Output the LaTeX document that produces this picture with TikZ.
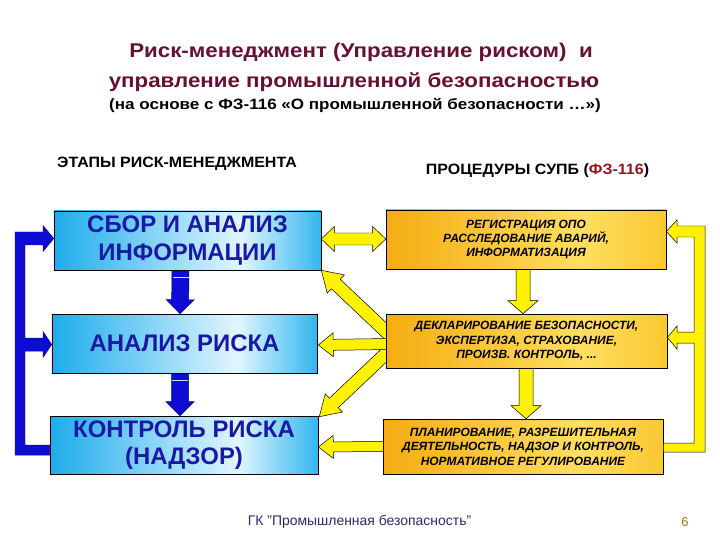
\documentclass[tikz,border=0pt]{standalone}
\usepackage{fontspec}
\setmainfont{Liberation Sans}
\newfontfamily\widefont{Liberation Sans}[FakeStretch=1.12]
\newfontfamily\wideskfont{Liberation Sans}[FakeStretch=1.14]
\newfontfamily\headfont{Liberation Sans}[FakeStretch=1.07]
\usetikzlibrary{calc}
\pgfdeclarelayer{background}
\pgfsetlayers{background,main}
\definecolor{titlecol}{RGB}{102,16,52}
\definecolor{bluetext}{RGB}{25,25,165}
\definecolor{cyanA}{RGB}{30,172,235}
\definecolor{cyanB}{RGB}{225,246,255}
\definecolor{cyanC}{RGB}{50,182,238}
\definecolor{orA}{RGB}{245,172,18}
\definecolor{orB}{RGB}{255,222,96}
\definecolor{orC}{RGB}{250,200,48}
\definecolor{arrowyellow}{RGB}{255,242,0}
\definecolor{arrowblue}{RGB}{12,12,212}
\definecolor{footcol}{RGB}{40,40,110}
\definecolor{pagenum}{RGB}{170,110,30}
\definecolor{fzred}{RGB}{150,20,30}
\pgfdeclarehorizontalshading{cyanshade}{100bp}{color(0bp)=(cyanA); color(25bp)=(cyanA); color(60bp)=(cyanB); color(75bp)=(cyanC); color(100bp)=(cyanC)}
\pgfdeclarehorizontalshading{orshade}{100bp}{color(0bp)=(orA); color(25bp)=(orA); color(60bp)=(orB); color(75bp)=(orC); color(100bp)=(orC)}
% block arrow: style, from, to, shaft half width, head half width, head length
\newcommand\blkarr[6]{%
  \coordinate (ban) at ($(#3)!#6!(#2)$);
  \path[#1] ($(#2)!#4!90:(#3)$) -- ($(ban)!#4!90:(#3)$) -- ($(ban)!#5!90:(#3)$) -- (#3)
    -- ($(ban)!#5!-90:(#3)$) -- ($(ban)!#4!-90:(#3)$) -- ($(#2)!#4!-90:(#3)$) -- cycle;}
% double block arrow
\newcommand\blkdarr[6]{%
  \coordinate (bda) at ($(#2)!#6!(#3)$);
  \coordinate (bdb) at ($(#3)!#6!(#2)$);
  \path[#1] (#2) -- ($(bda)!#5!90:(#3)$) -- ($(bda)!#4!90:(#3)$) -- ($(bdb)!#4!90:(#3)$)
    -- ($(bdb)!#5!90:(#3)$) -- (#3) -- ($(bdb)!#5!-90:(#3)$) -- ($(bdb)!#4!-90:(#3)$)
    -- ($(bda)!#4!-90:(#3)$) -- ($(bda)!#5!-90:(#3)$) -- cycle;}
\begin{document}
\begin{tikzpicture}[x=1bp,y=-1bp,
  lbox/.style={draw=black, line width=0.6pt, shade, shading=cyanshade, inner sep=0pt,
    text=bluetext, align=center, font=\bfseries\fontsize{24}{27.5}\selectfont},
  rbox/.style={draw=black, line width=0.6pt, shade, shading=orshade, inner sep=0pt,
    text=black, align=center, font=\bfseries\itshape\fontsize{12}{14.5}\selectfont},
  yarr/.style={fill=arrowyellow, draw=black, line width=0.5pt, line join=miter},
  barr/.style={fill=arrowblue, draw=arrowblue!60!black, line width=0.5pt, line join=miter},
  stripe/.style={draw=white!85!arrowblue, line width=1.4pt},
  heading/.style={text=black, font=\headfont\bfseries\fontsize{15}{17}\selectfont}]
\useasboundingbox (0,0) rectangle (720,540);

% titles
\node[anchor=base, text=titlecol, font=\widefont\bfseries\fontsize{20}{22}\selectfont] (t1) at (361,58) {Риск-менеджмент (Управление риском)~~и};
\node[anchor=base, text=titlecol, font=\widefont\bfseries\fontsize{20}{22}\selectfont] (t2) at (354,88) {управление промышленной безопасностью};
\node[anchor=base, text=black, font=\wideskfont\bfseries\fontsize{15}{17}\selectfont] (t3) at (355,110) {(на основе с ФЗ-116 «О промышленной безопасности …»)};
\node[heading] (h1) at (177,164) {ЭТАПЫ РИСК-МЕНЕДЖМЕНТА};
\node[heading] (h2) at (537.5,171) {ПРОЦЕДУРЫ СУПБ (\textcolor{fzred}{ФЗ-116})};

% boxes
\node[lbox, minimum width=267bp, minimum height=59bp] (L1) at (187.5,240.5) {СБОР И АНАЛИЗ\\ИНФОРМАЦИИ};
\node[lbox, minimum width=265bp, minimum height=59bp] (L2) at (184.5,343.5) {АНАЛИЗ РИСКА};
\node[lbox, minimum width=268bp, minimum height=58bp] (L3) at (184,445) {КОНТРОЛЬ РИСКА\\(НАДЗОР)};
\node[rbox, minimum width=280bp, minimum height=59bp] (R1) at (526,239.5) {РЕГИСТРАЦИЯ ОПО\\РАССЛЕДОВАНИЕ АВАРИЙ,\\ИНФОРМАТИЗАЦИЯ};
\node[rbox, minimum width=281bp, minimum height=54bp] (R2) at (526.5,341) {ДЕКЛАРИРОВАНИЕ БЕЗОПАСНОСТИ,\\ЭКСПЕРТИЗА, СТРАХОВАНИЕ,\\ПРОИЗВ. КОНТРОЛЬ, ...};
\node[rbox, minimum width=280bp, minimum height=55bp] (R3) at (523,446.5) {ПЛАНИРОВАНИЕ, РАЗРЕШИТЕЛЬНАЯ\\ДЕЯТЕЛЬНОСТЬ, НАДЗОР И КОНТРОЛЬ,\\НОРМАТИВНОЕ РЕГУЛИРОВАНИЕ};

% footer
\node[text=footcol, font=\fontsize{14}{16}\selectfont] (foot) at (359.5,522) {ГК "Промышленная безопасность"};
\node[text=pagenum, font=\fontsize{13}{15}\selectfont] (num) at (685,522) {6};

% connectors on background layer
\begin{pgfonlayer}{background}
  % vertical blue arrows
  \coordinate (b1s) at ($(L1.south)+(-7,0)$);
  \coordinate (b1e) at ($(L2.north)+(-4.5,0)$);
  \coordinate (b2s) at ($(L2.south)+(-4.5,0)$);
  \coordinate (b2e) at ($(L3.north)+(-4,0)$);
  \blkarr{barr}{b1s}{b1e}{8.5bp}{14bp}{14bp}
  \blkarr{barr}{b2s}{b2e}{8.5bp}{14bp}{14bp}
  \draw[stripe] ($(b1s)+(-8,7)$) -- ($(b1s)+(8,7)$);
  \draw[stripe] ($(b2s)+(-8,7)$) -- ($(b2s)+(8,7)$);
  % vertical yellow arrows
  \coordinate (y1s) at ($(R1.south)+(-3,0)$);
  \coordinate (y1e) at ($(R2.north)+(-3.5,0)$);
  \coordinate (y2s) at ($(R2.south)+(-0.5,0)$);
  \coordinate (y2e) at ($(R3.north)+(3,0)$);
  \blkarr{yarr}{y1s}{y1e}{7bp}{15bp}{13bp}
  \blkarr{yarr}{y2s}{y2e}{7bp}{15bp}{13bp}
  % double arrow L1 <-> R1
  \coordinate (d1) at ($(L1.east)+(0,-1.5)$);
  \coordinate (d2) at ($(R1.west)+(0,-0.5)$);
  \blkdarr{yarr}{d1}{d2}{6bp}{12.5bp}{13bp}
  % fan from R2
  \coordinate (f1s) at ($(R2.west)+(4,-6)$);
  \coordinate (f2s) at ($(R2.west)+(4,3)$);
  \coordinate (f3s) at ($(R2.west)+(4,9)$);
  \coordinate (f2e) at ($(L2.east)+(1,1.5)$);
  \coordinate (f3e) at ($(L3.north east)+(1,1)$);
  \blkarr{yarr}{f1s}{L1.south east}{6.5bp}{12.5bp}{20bp}
  \blkarr{yarr}{f3s}{f3e}{6.5bp}{12.5bp}{20bp}
  \blkarr{yarr}{f2s}{f2e}{5.5bp}{12bp}{15bp}
  % R3 -> L3
  \coordinate (g1s) at ($(R3.west)+(3,0)$);
  \coordinate (g1e) at ($(L3.east)+(0,2)$);
  \blkarr{yarr}{g1s}{g1e}{5bp}{11.5bp}{15bp}
\end{pgfonlayer}

% left blue feedback bracket
\coordinate (lt1) at ($(L1.west)+(0,-2)$);
\coordinate (lt2) at ($(L2.west)+(0,1)$);
\coordinate (lbo) at (15,0);
\coordinate (lbi) at (25,0);
\coordinate (lbn) at (43,0);
\path[barr] ($(lbo|-lt1)+(0,-6.5)$) -- ($(lbo|-L3.west)+(0,10)$) -- ($(L3.west)+(0,10)$)
  -- (L3.west) -- (lbi|-L3.west) -- ($(lbi|-lt2)+(0,6.5)$) -- ($(lbn|-lt2)+(0,6.5)$)
  -- ($(lbn|-lt2)+(0,13)$) -- (lt2) -- ($(lbn|-lt2)+(0,-13)$) -- ($(lbn|-lt2)+(0,-6.5)$)
  -- ($(lbi|-lt2)+(0,-6.5)$) -- ($(lbi|-lt1)+(0,6.5)$) -- ($(lbn|-lt1)+(0,6.5)$)
  -- ($(lbn|-lt1)+(0,13)$) -- (lt1) -- ($(lbn|-lt1)+(0,-13)$) -- ($(lbn|-lt1)+(0,-6.5)$) -- cycle;

% right yellow feedback bracket
\coordinate (rt1) at ($(R1.east)+(0,-8)$);
\coordinate (rt2) at ($(R2.east)+(0,-3.5)$);
\coordinate (rbo) at (705,0);
\coordinate (rbi) at (694,0);
\coordinate (rbn) at (677,0);
\path[yarr] ($(rbo|-rt1)+(0,-5.5)$) -- ($(rbo|-R3.east)+(0,5.5)$) -- ($(R3.east)+(0,5.5)$)
  -- ($(R3.east)+(0,-3.5)$) -- ($(rbi|-R3.east)+(0,-3.5)$) -- ($(rbi|-rt2)+(0,5.5)$)
  -- ($(rbn|-rt2)+(0,5.5)$) -- ($(rbn|-rt2)+(0,11.5)$) -- (rt2) -- ($(rbn|-rt2)+(0,-11.5)$)
  -- ($(rbn|-rt2)+(0,-5.5)$) -- ($(rbi|-rt2)+(0,-5.5)$) -- ($(rbi|-rt1)+(0,5.5)$)
  -- ($(rbn|-rt1)+(0,5.5)$) -- ($(rbn|-rt1)+(0,11.5)$) -- (rt1) -- ($(rbn|-rt1)+(0,-11.5)$)
  -- ($(rbn|-rt1)+(0,-5.5)$) -- cycle;
\end{tikzpicture}
\end{document}
